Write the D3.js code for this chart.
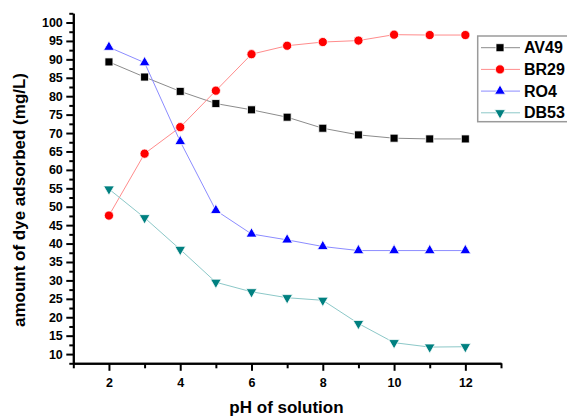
<!DOCTYPE html>
<html>
<head>
<meta charset="utf-8">
<script src="https://cdn.jsdelivr.net/npm/d3@7"></script>
<style>
    body { margin: 0; background: #fff; }
    svg { display: block; font-family: Arial, "Liberation Sans", sans-serif; }
    .axis path, .axis line { stroke: #000; stroke-width: 2; }
    .axis text { font-size: 12.5px; font-weight: bold; fill: #000; }
    .series path.line { fill: none; stroke-width: 1; }
</style>
</head>
<body>
<svg id="chart"></svg>
<script>
// data
const pH = [2, 3, 4, 5, 6, 7, 8, 9, 10, 11, 12]
const av49 = [89.3, 85.2, 81.3, 78.0, 76.3, 74.3, 71.3, 69.5, 68.6, 68.4, 68.4]
const br29 = [47.6, 64.4, 71.6, 81.5, 91.4, 93.7, 94.7, 95.1, 96.7, 96.6, 96.6]
const ro4 = [93.3, 89.1, 67.7, 49.0, 42.6, 41.0, 39.2, 38.1, 38.1, 38.1, 38.1]
const db53 = [54.8, 47.0, 38.4, 29.5, 26.9, 25.3, 24.6, 18.3, 13.1, 11.9, 12.0]

const xMajor = [2, 4, 6, 8, 10, 12]
const xMinor = [1, 3, 5, 7, 9, 11, 13]
const yMajor = d3.range(10, 101, 5)
const yMinor = d3.range(7.5, 103, 5)

const series = [
    { name: 'AV49', values: av49, lineColor: '#8c8c8c', color: '#000000', symbol: d3.symbolSquare, size: 64 },
    { name: 'BR29', values: br29, lineColor: '#ff8c8c', color: '#ff0000', symbol: d3.symbolCircle, size: 66 },
    { name: 'RO4', values: ro4, lineColor: '#8c8cff', color: '#0000ff', symbol: d3.symbolTriangle, size: 50, rot: 0 },
    { name: 'DB53', values: db53, lineColor: '#8cc8c8', color: '#008080', symbol: d3.symbolTriangle, size: 50, rot: 180 }
]

/**********************************************
 *
 * chart
 *
 **********************************************/
const W = 567
const H = 416
const margin = { left: 73.3, top: 13.3, right: 66, bottom: 52.7 }
const width = W - margin.left - margin.right
const height = H - margin.top - margin.bottom

const svg = d3.select('#chart').attr('width', W).attr('height', H)
const g = svg.append('g').attr('transform', `translate(${margin.left},${margin.top})`)

const xScale = d3.scaleLinear().domain([1, 13]).range([0, width])
const yScale = d3.scaleLinear().domain([7.5, 102.5]).range([height, 0])

// x axis: minor ticks first, then major ticks with labels
g.append('g').attr('class', 'axis')
    .attr('transform', `translate(0,${height})`)
    .call(d3.axisBottom(xScale).tickValues(xMinor).tickSize(5).tickSizeOuter(0).tickFormat(''))
g.append('g').attr('class', 'axis')
    .attr('transform', `translate(0,${height})`)
    .call(d3.axisBottom(xScale).tickValues(xMajor).tickSize(7.5).tickSizeOuter(0).tickPadding(7.5).tickFormat(d3.format('d')))

// y axis
g.append('g').attr('class', 'axis')
    .call(d3.axisLeft(yScale).tickValues(yMinor).tickSize(4).tickSizeOuter(0).tickFormat(''))
g.append('g').attr('class', 'axis')
    .call(d3.axisLeft(yScale).tickValues(yMajor).tickSize(7).tickSizeOuter(0).tickPadding(3.5).tickFormat(d3.format('d')))

// axis titles
svg.append('text')
    .attr('transform', 'translate(24.5,200) rotate(-90)')
    .attr('text-anchor', 'middle')
    .style('font-size', '17px').style('font-weight', 'bold')
    .text('amount of dye adsorbed (mg/L)')
svg.append('text')
    .attr('x', 286.5).attr('y', 413)
    .attr('text-anchor', 'middle')
    .style('font-size', '17px').style('font-weight', 'bold')
    .text('pH of solution')

const line = d3.line()
    .x((d, i) => xScale(pH[i]))
    .y(d => yScale(d))

function drawMarker(sel, s, x, y) {
    sel.append('path')
        .attr('d', d3.symbol().type(s.symbol).size(s.size)())
        .attr('transform', `translate(${x},${y}) rotate(${s.rot || 0})`)
        .attr('fill', s.color)
        .attr('stroke', '#fff')
        .attr('stroke-width', 0.8)
}

series.forEach(s => {
    const sg = g.append('g').attr('class', 'series')
    sg.append('path')
        .datum(s.values)
        .attr('class', 'line')
        .attr('stroke', s.lineColor)
        .attr('d', line)
    s.values.forEach((v, i) => drawMarker(sg, s, xScale(pH[i]), yScale(v)))
})

// legend
const legend = svg.append('g')
legend.append('rect')
    .attr('x', 477.7).attr('y', 36)
    .attr('width', 110).attr('height', 85.7)
    .attr('fill', '#fff')
    .attr('stroke', '#9a9a9a')
    .attr('stroke-width', 1.5)

series.forEach((s, i) => {
    const ly = 47.7 + i * 21.7
    legend.append('line')
        .attr('x1', 481).attr('x2', 520)
        .attr('y1', ly).attr('y2', ly)
        .attr('stroke', s.lineColor)
        .attr('stroke-width', 1)
    drawMarker(legend, s, 500, ly)
    legend.append('text')
        .attr('x', 524).attr('y', ly + 5.6)
        .style('font-size', '16px').style('font-weight', 'bold')
        .text(s.name)
})
</script>
</body>
</html>
